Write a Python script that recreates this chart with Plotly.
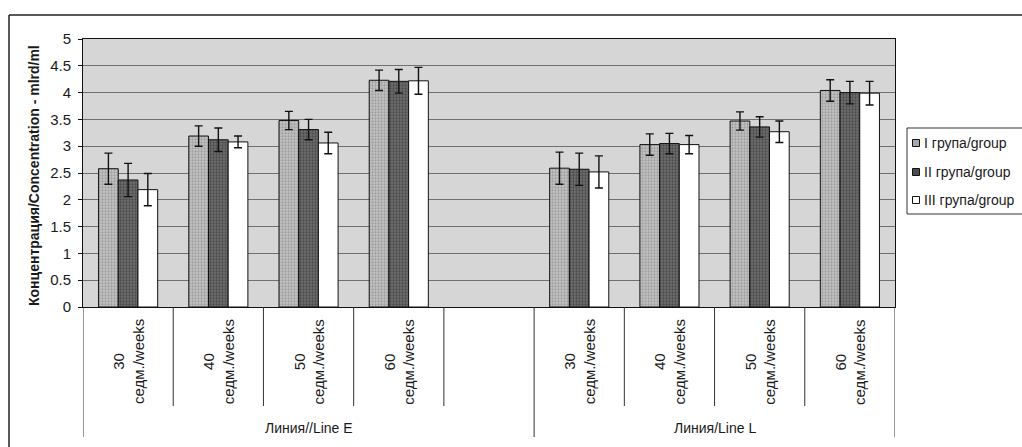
import plotly.graph_objects as go

# Sperm concentration (mlrd/ml) by age, three groups, two lines
weeks = ["30", "40", "50", "60"]
week_unit = "седм./weeks"
line_names = ["Линия//Line E", "Линия/Line L"]
group_names = ["I група/group", "II група/group", "III група/group"]

group_I_E = [2.58, 3.19, 3.48, 4.23]
group_II_E = [2.37, 3.12, 3.31, 4.21]
group_III_E = [2.19, 3.08, 3.06, 4.22]

group_I_L = [2.59, 3.03, 3.47, 4.04]
group_II_L = [2.57, 3.05, 3.36, 4.00]
group_III_L = [2.52, 3.03, 3.27, 3.99]

err_I_E = [0.29, 0.19, 0.17, 0.19]
err_II_E = [0.31, 0.22, 0.19, 0.22]
err_III_E = [0.30, 0.11, 0.20, 0.25]

err_I_L = [0.30, 0.20, 0.17, 0.20]
err_II_L = [0.30, 0.19, 0.19, 0.21]
err_III_L = [0.30, 0.17, 0.20, 0.22]

y_ticks = [0, 0.5, 1, 1.5, 2, 2.5, 3, 3.5, 4, 4.5, 5]

# slot positions: Line E, one empty slot, then Line L
n = len(weeks)
x_E = list(range(n))
x_L = [n + 1 + i for i in range(n)]
slots = x_E + x_L
n_slots = n * 2 + 1

FONT = "Liberation Sans, Arial, sans-serif"
TXT = "#1a1a1a"

styles = [
    dict(color="#a9a9a9", pattern=dict(shape=".", fgcolor="#7a7a7a", bgcolor="#c4c4c4", size=3, solidity=0.45)),
    dict(color="#4d4d4d", pattern=dict(shape=".", fgcolor="#2a2a2a", bgcolor="#6e6e6e", size=3, solidity=0.45)),
    dict(color="#ffffff", pattern=None),
]

series = [
    (group_I_E + group_I_L, err_I_E + err_I_L),
    (group_II_E + group_II_L, err_II_E + err_II_L),
    (group_III_E + group_III_L, err_III_E + err_III_L),
]

fig = go.Figure()
for name, (vals, errs), st in zip(group_names, series, styles):
    marker = dict(color=st["color"], line=dict(color="#111111", width=1))
    if st["pattern"]:
        marker["pattern"] = st["pattern"]
    fig.add_trace(go.Bar(
        x=slots, y=vals, name=name, marker=marker, showlegend=False,
        error_y=dict(type="data", array=errs, visible=True,
                     color="#111111", thickness=1.4, width=4),
    ))

L, R, T, B = 83, 127, 39, 140
W, H = 1022, 447
pw, ph = W - L - R, H - T - B

def py(px):
    return (H - B - px) / ph

def pxx(px):
    return (px - L) / pw

shapes = []
# category dividers below the axis
for k in range(n_slots + 1):
    long_div = k in (0, n + 1, n_slots)
    shapes.append(dict(type="line", xref="x", yref="paper",
                       x0=k - 0.5, x1=k - 0.5, y0=0,
                       y1=py(437) if long_div else py(406),
                       line=dict(color="#333333", width=1)))
# outer frame
shapes.append(dict(type="line", xref="paper", yref="paper",
                   x0=pxx(9), x1=pxx(9), y0=py(447), y1=py(15),
                   line=dict(color="#222222", width=1.5)))
shapes.append(dict(type="line", xref="paper", yref="paper",
                   x0=pxx(9), x1=pxx(1022), y0=py(15), y1=py(15),
                   line=dict(color="#222222", width=1.5)))

annotations = []
for xs in (x_E, x_L):
    for xv, w in zip(xs, weeks):
        annotations.append(dict(x=xv, y=py(362), xref="x", yref="paper",
                                xanchor="center", yanchor="middle",
                                text=f"{w}<br>{week_unit}", textangle=-90,
                                showarrow=False, align="center",
                                font=dict(family=FONT, size=15, color=TXT)))
annotations.append(dict(x=(-0.5 + n + 0.5) / 2, y=py(428), xref="x", yref="paper",
                        xanchor="center", yanchor="middle",
                        text=line_names[0], showarrow=False,
                        font=dict(family=FONT, size=14, color=TXT)))
annotations.append(dict(x=(n + 0.5 + n_slots - 0.5) / 2, y=py(428), xref="x", yref="paper",
                        xanchor="center", yanchor="middle",
                        text=line_names[1], showarrow=False,
                        font=dict(family=FONT, size=14, color=TXT)))
annotations.append(dict(x=pxx(34), y=py(176), xref="paper", yref="paper",
                        xanchor="center", yanchor="middle",
                        text="<b>Концентрация/Concentration - mlrd/ml</b>",
                        textangle=-90, showarrow=False,
                        font=dict(family=FONT, size=14, color=TXT)))

# legend box with small square keys
leg_rows = [143, 172, 200]
shapes.append(dict(type="rect", xref="paper", yref="paper",
                   x0=pxx(907), x1=pxx(1030), y0=py(214), y1=py(128),
                   line=dict(color="#333333", width=1), fillcolor="white"))
for name, st, ry in zip(group_names, styles, leg_rows):
    shapes.append(dict(type="rect", xref="paper", yref="paper",
                       x0=pxx(912.5), x1=pxx(919.5), y0=py(ry + 3.5), y1=py(ry - 3.5),
                       line=dict(color="#111111", width=1), fillcolor=st["color"]))
    annotations.append(dict(x=pxx(922), y=py(ry), xref="paper", yref="paper",
                            xanchor="left", yanchor="middle", text=name,
                            showarrow=False,
                            font=dict(family=FONT, size=14, color=TXT)))

fig.update_layout(
    width=W, height=H,
    margin=dict(l=L, r=R, t=T, b=B, autoexpand=False),
    paper_bgcolor="white",
    plot_bgcolor="#d6d6d6",
    barmode="group", bargap=0.345, bargroupgap=0,
    font=dict(family=FONT, size=15, color=TXT),
    showlegend=False,
    shapes=shapes,
    annotations=annotations,
    xaxis=dict(range=[-0.5, n_slots - 0.5], showticklabels=False, ticks="",
               showgrid=False, zeroline=False, showline=True,
               linecolor="#111111", linewidth=1, mirror=True),
    yaxis=dict(range=[0, 5], tickvals=y_ticks, ticktext=[f"{v:g}" for v in y_ticks],
               ticks="outside", ticklen=4, tickcolor="#111111",
               showgrid=True, gridcolor="#707070", gridwidth=1,
               zeroline=False, showline=True, linecolor="#111111",
               linewidth=1, mirror=True, ticklabelstandoff=4,
               tickfont=dict(family=FONT, size=15, color=TXT)),
)

fig.write_html("out.html")
